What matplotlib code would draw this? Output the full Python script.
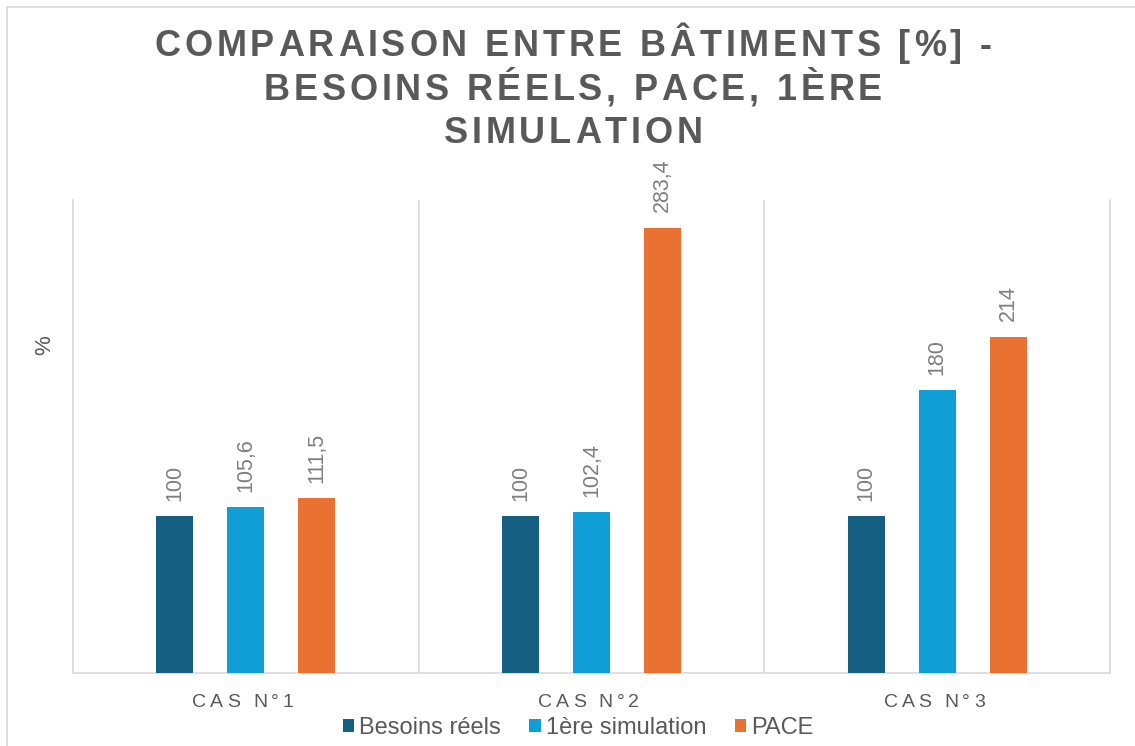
import matplotlib
matplotlib.use("Agg")
import matplotlib.pyplot as plt
import numpy as np
from matplotlib.patches import Rectangle
from matplotlib.font_manager import findfont, FontProperties, get_font

categories = ["CAS N°1", "CAS N°2", "CAS N°3"]
series_names = ["Besoins réels", "1ère simulation", "PACE"]
besoins = [100, 100, 100]
simulation = [105.6, 102.4, 180]
pace = [111.5, 283.4, 214]
series = [besoins, simulation, pace]
colors = ["#156082", "#0F9ED5", "#E97132"]
gray = "#595959"
title_lines = ["COMPARAISON ENTRE BÂTIMENTS [%] -",
               "BESOINS RÉELS, PACE, 1ÈRE",
               "SIMULATION"]

plt.rcParams['font.family'] = ['Liberation Sans', 'DejaVu Sans']

DPI = 100
W, H = 1135, 746
fig = plt.figure(figsize=(W / DPI, H / DPI), dpi=DPI)
ax = fig.add_axes([73 / W, 1 - 673 / H, (1110 - 73) / W, (673 - 200) / H])


def advances(s, size, weight="normal"):
    prop = FontProperties(family="Liberation Sans", weight=weight)
    font = get_font(findfont(prop))
    font.set_size(size, DPI)
    return [font.load_char(ord(c)).linearHoriAdvance / 65536 for c in s]


def spaced_text(s, cx, baseline, size, spacing, weight="normal", color=gray):
    adv = advances(s, size, weight)
    total = sum(adv) + spacing * (len(s) - 1)
    x0 = cx - total / 2
    for c, w in zip(s, adv):
        if c != " ":
            fig.text(x0 / W, 1 - baseline / H, c, ha="left", va="baseline",
                     fontsize=size, fontweight=weight, color=color)
        x0 += w + spacing


x = np.arange(len(categories))
bw = 0.107
offs = [-0.205, 0, 0.205]


def fmt(v):
    s = f"{v:.1f}".rstrip("0").rstrip(".")
    return s.replace(".", ",")


for vals, off, c, name in zip(series, offs, colors, series_names):
    bars = ax.bar(x + off, vals, bw, color=c, label=name, zorder=3)
    for b, v in zip(bars, vals):
        ax.annotate(fmt(v), (b.get_x() + b.get_width() / 2, v),
                    xytext=(0, 11), textcoords="offset points",
                    rotation=90, ha="center", va="bottom",
                    fontsize=15.5, color="#7F7F7F")

ax.set_xlim(-0.5, 2.5)
ax.set_ylim(0, 301)
ax.set_yticks([])
ax.set_xticks(x)
ax.set_xticklabels([])
ax.tick_params(axis="x", length=0)
for xv in [0.5, 1.5]:
    ax.axvline(xv, color="#D9D9D9", lw=1.2, zorder=1)
ax.spines["top"].set_visible(False)
for s in ["left", "right", "bottom"]:
    ax.spines[s].set_color("#D9D9D9")
    ax.spines[s].set_linewidth(1.2)

# category labels (letter-spaced)
for i, cat in enumerate(categories):
    cx = 73 + (i + 0.5) * (1110 - 73) / 3
    adv = advances(cat, 14)
    sp = (101 - sum(adv)) / (len(cat) - 1)
    spaced_text(cat, cx - 3, 707, 14, sp)

fig.text(45 / W, 1 - 345 / H, "%", rotation=90, ha="center", va="center",
         fontsize=16, color=gray)

# title (letter-spaced)
T_SIZE = 26
line0 = title_lines[0]
adv0 = advances(line0, T_SIZE, "bold")
LETTER_SP = (837 - sum(adv0)) / (len(line0) - 1)
baselines = [56, 100, 143]
for line, bl in zip(title_lines, baselines):
    spaced_text(line, 573, bl, T_SIZE, LETTER_SP, weight="bold")

leg = ax.legend(loc="center", bbox_to_anchor=(578 / W, 1 - 728 / H),
                bbox_transform=fig.transFigure, ncol=3, frameon=False,
                fontsize=17, handlelength=0.5, handleheight=0.5,
                handletextpad=0.2, columnspacing=1.2, labelcolor=gray,
                borderpad=0)

fig.patches.append(Rectangle((7 / W, -0.01), 1.02, 1 - 7 / H + 0.01,
                             transform=fig.transFigure, fill=False,
                             edgecolor="#D9D9D9", lw=1.2))

fig.savefig("out.png", dpi=DPI)
